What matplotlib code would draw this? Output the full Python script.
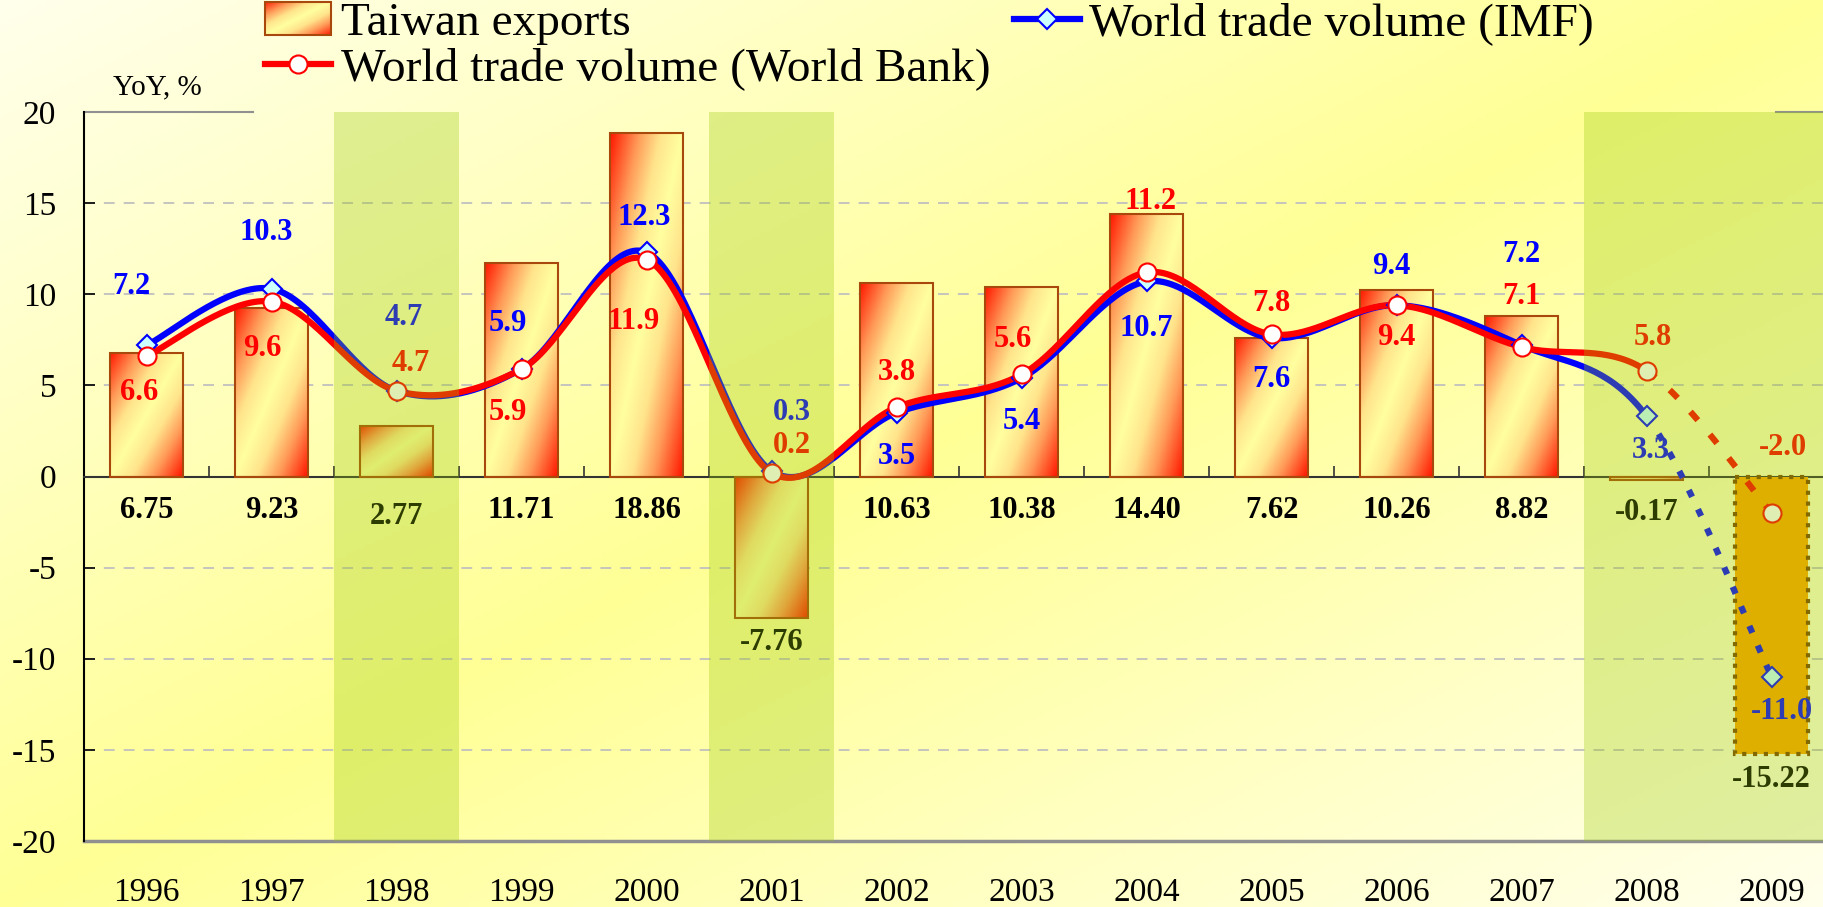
import numpy as np
import matplotlib
matplotlib.use('Agg')
import matplotlib.pyplot as plt
from matplotlib.colors import LinearSegmentedColormap
from matplotlib.patches import Patch
from matplotlib.lines import Line2D

years = ['1996', '1997', '1998', '1999', '2000', '2001', '2002',
         '2003', '2004', '2005', '2006', '2007', '2008', '2009']
taiwan_exports = [6.75, 9.23, 2.77, 11.71, 18.86, -7.76, 10.63,
                  10.38, 14.40, 7.62, 10.26, 8.82, -0.17, -15.22]
imf_trade = [7.2, 10.3, 4.7, 5.9, 12.3, 0.3, 3.5, 5.4, 10.7, 7.6, 9.4, 7.2, 3.3, -11.0]
wb_trade = [6.6, 9.6, 4.7, 5.9, 11.9, 0.2, 3.8, 5.6, 11.2, 7.8, 9.4, 7.1, 5.8, -2.0]
shaded_years = ['1998', '2001', '2008', '2009']

# where the value labels sit, relative to their point (data units)
imf_dx = [-0.12, -0.04, 0.06, -0.11, -0.02, 0.16, 0.0, 0.0, 0.0, 0.0, -0.04, 0.0, 0.03, 0.08]
imf_dy = [3.2, 3.1, 4.0, 2.5, 1.9, 3.2, -2.4, -2.4, -2.6, -2.3, 2.1, 5.0, -1.9, -1.9]
wb_dx = [-0.06, -0.07, 0.11, -0.11, -0.1, 0.16, 0.0, -0.07, 0.03, 0.0, 0.0, 0.0, 0.05, 0.09]
wb_dy = [-2.0, -2.6, 1.5, -2.4, -3.4, 1.5, 1.9, 1.9, 3.9, 1.7, -1.8, 2.8, 1.8, 3.6]
bar_lab_y = [-1.85, -1.85, -2.2, -1.85, -1.85, -9.1, -1.85,
             -1.85, -1.85, -1.85, -1.85, -1.85, -2.0, -16.6]

plt.rcParams['font.family'] = ['Liberation Serif', 'DejaVu Serif']
plt.rcParams['axes.unicode_minus'] = False

W, H = 1823, 907
fig = plt.figure(figsize=(W / 100, H / 100), dpi=100)

# background: diagonal light -> yellow -> light
bg = fig.add_axes([0, 0, 1, 1], zorder=-1)
gx, gy = np.meshgrid(np.linspace(0, 1, 400), np.linspace(0, 1, 200))
t = 1 - np.abs(gx + gy - 1)
light = np.array([255, 255, 236]) / 255
yellow = np.array([255, 255, 150]) / 255
bg.imshow(light + (yellow - light) * t[..., None], aspect='auto',
          extent=[0, 1, 0, 1], origin='upper')
bg.axis('off')

ax = fig.add_axes([84 / W, 66 / H, 1 - 84 / W, 729 / H], zorder=1)
ax.patch.set_alpha(0)
x = np.arange(len(years))

# bars with red-yellow-red diagonal gradient
bar_cmap = LinearSegmentedColormap.from_list(
    'bar', [(0, '#FFFFA0'), (0.3, '#FFE48C'), (0.6, '#FF9A58'), (1, '#FF1800')])
u, v = np.meshgrid(np.linspace(0, 1, 60), np.linspace(0, 1, 200))
grad = bar_cmap(np.abs(u + v - 1))

bars = ax.bar(x, taiwan_exports, width=0.58, facecolor='none',
              edgecolor='#A8480C', linewidth=1.5, zorder=3)
for i, b in enumerate(bars):
    if i == len(bars) - 1:
        b.set_facecolor('#FFA500')
        b.set_edgecolor('#7A4000')
        b.set_linewidth(3)
        b.set_linestyle((0, (1, 1.6)))
        continue
    x0, w = b.get_x(), b.get_width()
    y0, h = b.get_y(), b.get_height()
    im = ax.imshow(grad, extent=[x0, x0 + w, min(y0, y0 + h), max(y0, y0 + h)],
                   origin='upper', aspect='auto', zorder=2)
    im.set_clip_path(b)


def smooth(xs, ys, n=40):
    p = np.column_stack([xs, ys]).astype(float)
    p = np.vstack([p[0], p, p[-1]])
    tt = np.linspace(0, 1, n)[:, None]
    segs = []
    for i in range(1, len(p) - 2):
        p0, p1, p2, p3 = p[i - 1], p[i], p[i + 1], p[i + 2]
        segs.append(0.5 * (2 * p1 + (-p0 + p2) * tt
                           + (2 * p0 - 5 * p1 + 4 * p2 - p3) * tt ** 2
                           + (-p0 + 3 * p1 - 3 * p2 + p3) * tt ** 3))
    return segs


# IMF (blue) then World Bank (red) on top
for vals, col, z, style in [(imf_trade, '#0000FF', 4, (0, (1.2, 2.2))),
                            (wb_trade, '#FF0000', 4.5, (0, (1.8, 3.0)))]:
    segs = smooth(x, vals)
    solid = np.vstack(segs[:-1])
    ax.plot(solid[:, 0], solid[:, 1], color=col, lw=4.5, zorder=z,
            solid_capstyle='round', solid_joinstyle='round')
    ax.plot(segs[-1][:, 0], segs[-1][:, 1], color=col, lw=4.5, ls=style,
            zorder=z, dash_capstyle='butt')

ax.plot(x, imf_trade, ls='none', marker='D', ms=10, mfc='#CCFFFF',
        mec='#0000FF', mew=1.5, zorder=5)
ax.plot(x, wb_trade, ls='none', marker='o', ms=13, mfc='white',
        mec='#FF0000', mew=1.5, zorder=5.5)

for i in range(len(years)):
    ax.text(x[i] + imf_dx[i], imf_trade[i] + imf_dy[i], f'{imf_trade[i]:.1f}',
            color='#0000FF', fontsize=22, fontweight='bold',
            ha='center', va='center', zorder=6)
    ax.text(x[i] + wb_dx[i], wb_trade[i] + wb_dy[i], f'{wb_trade[i]:.1f}',
            color='#FF0000', fontsize=22, fontweight='bold',
            ha='center', va='center', zorder=6)
    ax.text(x[i], bar_lab_y[i], f'{taiwan_exports[i]:.2f}',
            color='black', fontsize=22, fontweight='bold',
            ha='center', va='center', zorder=6, clip_on=False)
    ax.text(x[i], -0.071, years[i], transform=ax.get_xaxis_transform(),
            ha='center', va='center', fontsize=24, clip_on=False)

# green-yellow translucent highlight over the shaded years
for yr in shaded_years:
    i = years.index(yr)
    ax.axvspan(i - 0.5, i + 0.5, color='#96C800', alpha=0.3, lw=0, zorder=8)

# grid and axes
for lv in [-15, -10, -5, 5, 10, 15]:
    ax.axhline(lv, color='#C0C0C0', lw=1.3, ls=(0, (6, 5)), zorder=1)
ax.axhline(-20, color='#909090', lw=2.5, zorder=2, clip_on=False)
ax.axhline(20, xmax=0.097, color='#909090', lw=1.5, zorder=2, clip_on=False)
ax.axhline(20, xmin=0.973, color='#909090', lw=1.5, zorder=2, clip_on=False)

ax.spines['top'].set_visible(False)
ax.spines['right'].set_visible(False)
ax.spines['bottom'].set_position(('data', 0))
ax.spines['bottom'].set_color('#333333')
ax.spines['bottom'].set_linewidth(1.5)
ax.spines['left'].set_color('black')
ax.spines['left'].set_linewidth(1.5)

ax.set_xticks(np.arange(-0.5, len(years), 1))
ax.tick_params(axis='x', direction='in', length=8, width=1.2,
               color='#333333', labelbottom=False)
ax.set_yticks(np.arange(-20, 21, 5))
ax.tick_params(axis='y', direction='in', length=8, width=1.2, pad=20, labelsize=24)
ax.set_xlim(-0.5, 13.41)
ax.set_ylim(-20, 20)

fig.text(157 / W, 1 - 87 / H, 'YoY, %', fontsize=21, ha='center', va='center')

h_bar = Patch(facecolor='none', edgecolor='#A8480C', linewidth=1.5)
h_wb = Line2D([], [], color='#FF0000', lw=4.5, marker='o', ms=13,
              mfc='white', mec='#FF0000', mew=1.5)
h_imf = Line2D([], [], color='#0000FF', lw=4.5, marker='D', ms=10,
               mfc='#CCFFFF', mec='#0000FF', mew=1.5)
leg = fig.legend([h_bar, h_wb, h_imf],
                 ['Taiwan exports', 'World trade volume (World Bank)',
                  'World trade volume (IMF)'],
                 loc='upper left', bbox_to_anchor=(265 / W, 1 - 2 / H), ncol=2,
                 frameon=False, fontsize=34, handlelength=1.4, handleheight=0.7,
                 handletextpad=0.2, columnspacing=0.5, labelspacing=0.05,
                 borderpad=0, borderaxespad=0)

# gradient behind the legend patch
fig.canvas.draw()
bb = leg.legend_handles[0].get_window_extent()
lax = fig.add_axes([bb.x0 / W, bb.y0 / H, bb.width / W, bb.height / H], zorder=2)
lax.imshow(grad, aspect='auto')
lax.axis('off')

fig.savefig('out.png', dpi=100)
